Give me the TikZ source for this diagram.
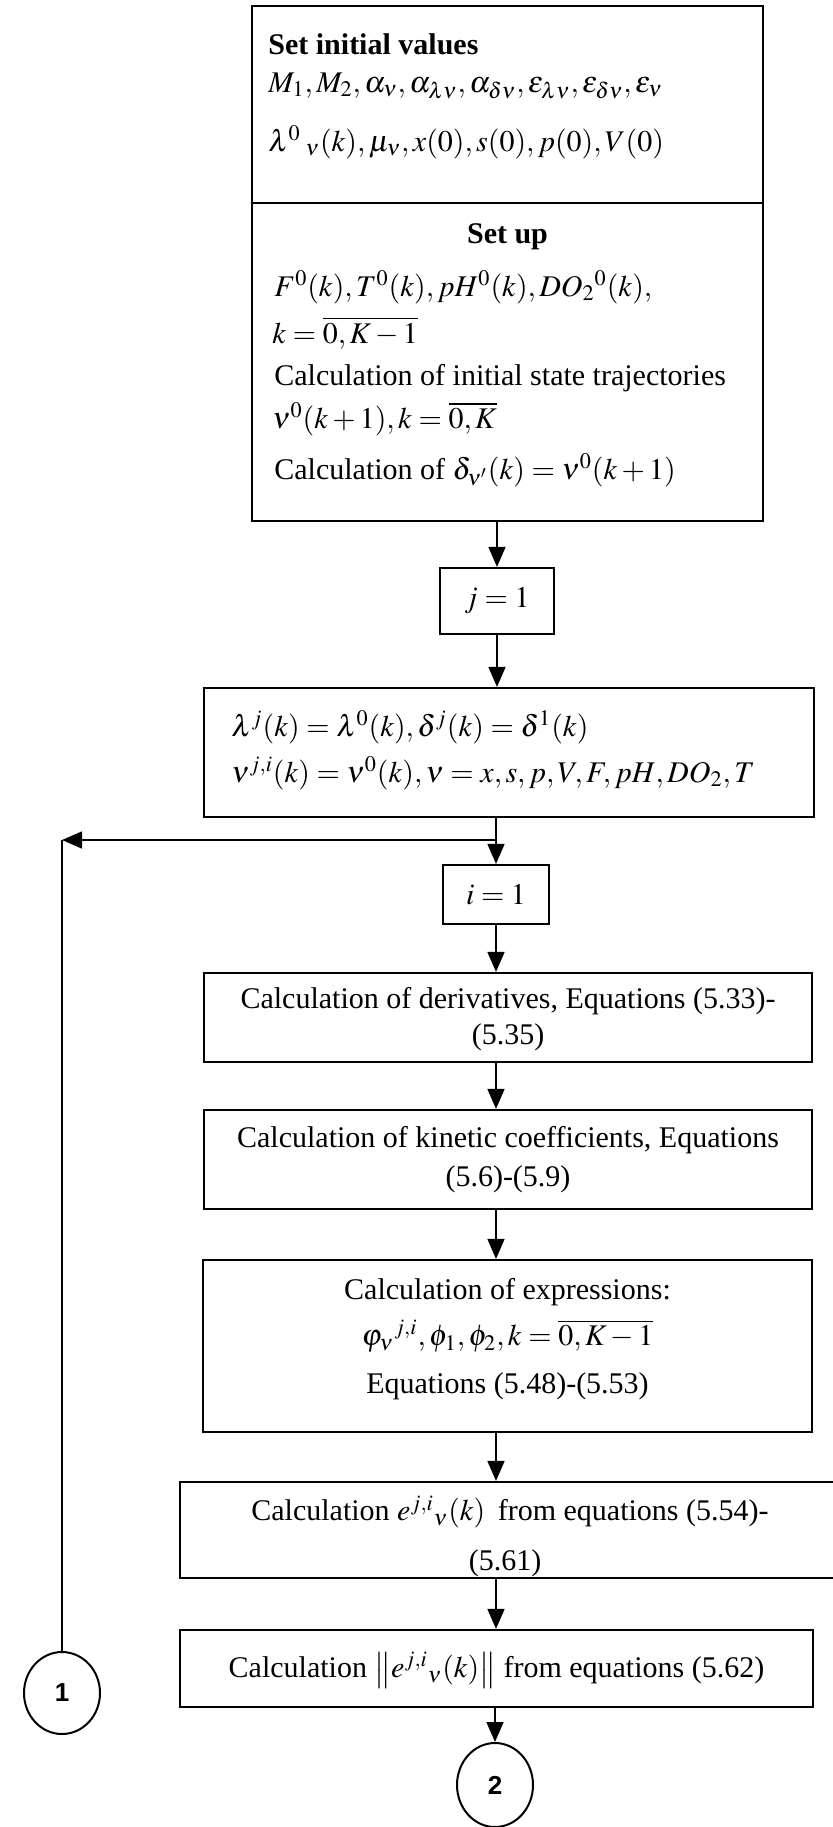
\documentclass[tikz,border=0pt]{standalone}
\usepackage{mathptmx}
\usepackage[no-math]{fontspec}
\setmainfont{Liberation Serif}
\newfontfamily\circfont{Liberation Sans}
\usetikzlibrary{arrows.meta,shapes.geometric}
\newcommand\fs{\fontsize{15}{19}\selectfont}
\begin{document}
\begin{tikzpicture}[x=0.5pt,y=-0.5pt,
  box/.style={draw, line width=1.1pt, inner sep=0pt},
  txt/.style={inner sep=0pt, font=\fs},
  arr/.style={-{Triangle[length=10pt,width=8.5pt]}, line width=0.8pt},
  conn/.style={line width=0.8pt},
  circ/.style={draw, ellipse, line width=1pt, inner sep=0pt, font=\circfont\bfseries\fontsize{13}{15}\selectfont}]
\useasboundingbox (0,0) rectangle (832,1827);
% boxes
\node[box, minimum width=255.5pt, minimum height=98.5pt] (init) at (507.5,104.5) {};
\node[box, minimum width=255.5pt, minimum height=159pt] (setup) at (507.5,362) {};
\node[box, minimum width=57pt, minimum height=33pt] (jbox) at (497,601) {};
\node[box, minimum width=305pt, minimum height=64.5pt] (lam) at (509,752.5) {};
\node[box, minimum width=53pt, minimum height=29.5pt] (ibox) at (496,894.5) {};
\node[box, minimum width=304pt, minimum height=44.5pt] (deriv) at (508,1017.5) {};
\node[box, minimum width=304pt, minimum height=49.5pt] (kin) at (508,1159.5) {};
\node[box, minimum width=304.5pt, minimum height=86pt] (expr) at (507.5,1346) {};
\node[box, minimum width=330pt, minimum height=48pt] (ebox) at (510,1530) {};
\node[box, minimum width=316.5pt, minimum height=38.5pt] (norm) at (496.5,1668.5) {};
\node[circ, minimum width=38pt, minimum height=41pt] (c1) at (62,1693) {1};
\node[circ, minimum width=38pt, minimum height=42pt] (c2) at (495,1785) {2};
% texts of the first box
\node[txt, anchor=west] (t1) at (268,44) {\bfseries Set initial values};
\node[txt, anchor=west] (t2) at (268,86) {$M_1, M_2, \alpha_\nu, \alpha_{\lambda\nu}, \alpha_{\delta\nu}, \varepsilon_{\lambda\nu}, \varepsilon_{\delta\nu}, \varepsilon_\nu$};
\node[txt, anchor=west] (t3) at (268,142) {$\lambda^0{}_{\;\nu}(k), \mu_\nu, x(0), s(0), p(0), V(0)$};
\node[txt] (t4) at (507.5,237) {\bfseries Set up};
\node[txt, anchor=west] (t5) at (274,287) {$F^0(k), T^0(k), pH^0(k), DO_2{}^0(k),$};
\node[txt, anchor=west] (t6) at (272,333) {$k=\overline{0,K-1}$};
\node[txt, anchor=west] (t7) at (274,378) {Calculation of initial state trajectories};
\node[txt, anchor=west] (t8) at (272,419) {$\nu^0(k+1), k=\overline{0,K}$};
\node[txt, anchor=west] (t9) at (274,470) {Calculation of $\delta_{\nu'}(k)=\nu^0(k+1)$};
% other texts
\node[txt] (tj) at (jbox) {$j=1$};
\node[txt, anchor=west] (tl1) at (231,727) {$\lambda^j(k)=\lambda^0(k), \delta^j(k)=\delta^1(k)$};
\node[txt, anchor=west] (tl2) at (231,773) {$\nu^{j,i}(k)=\nu^0(k), \nu=x,s,p,V,F,pH,DO_2,T$};
\node[txt] (ti) at (ibox) {$i=1$};
\node[txt] (td1) at (508,1001) {Calculation of derivatives, Equations (5.33)-};
\node[txt] (td2) at (508,1037) {(5.35)};
\node[txt] (tk1) at (508,1140) {Calculation of kinetic coefficients, Equations};
\node[txt] (tk2) at (508,1179) {(5.6)-(5.9)};
\node[txt] (te1) at (507.5,1292) {Calculation of expressions:};
\node[txt] (te2) at (507.5,1336) {$\varphi_\nu{}^{j,i}, \phi_1, \phi_2, k=\overline{0,K-1}$};
\node[txt] (te3) at (507.5,1386) {Equations (5.48)-(5.53)};
\node[txt] (tee1) at (510,1512) {Calculation $e^{j,i}{}_\nu(k)$ \,from equations (5.54)-};
\begin{scope}
\clip (ebox.north west) rectangle (ebox.south east);
\node[txt, anchor=base] (tee2) at (505,1570) {(5.61)};
\end{scope}
\node[txt] (tn) at (496.5,1670) {Calculation $\left\|e^{j,i}{}_\nu(k)\right\|$ from equations (5.62)};
% connectors
\draw[arr] (jbox.north |- setup.south) -- (jbox.north);
\draw[arr] (jbox.south) -- (jbox.south |- lam.north);
\coordinate (junc) at (ibox.north |- 0,840);
\coordinate (corner) at (c1.north |- junc);
\draw[arr] (ibox.north |- lam.south) -- (ibox.north);
\draw[arr] (junc) -- (corner);
\draw[conn] (corner) -- (c1.north);
\draw[arr] (ibox.south) -- (ibox.south |- deriv.north);
\draw[arr] (ibox.south |- deriv.south) -- (ibox.south |- kin.north);
\draw[arr] (ibox.south |- kin.south) -- (ibox.south |- expr.north);
\draw[arr] (ibox.south |- expr.south) -- (ibox.south |- ebox.north);
\draw[arr] (ibox.south |- ebox.south) -- (ibox.south |- norm.north);
\draw[arr] (c2.north |- norm.south) -- (c2.north);
\end{tikzpicture}
\end{document}
